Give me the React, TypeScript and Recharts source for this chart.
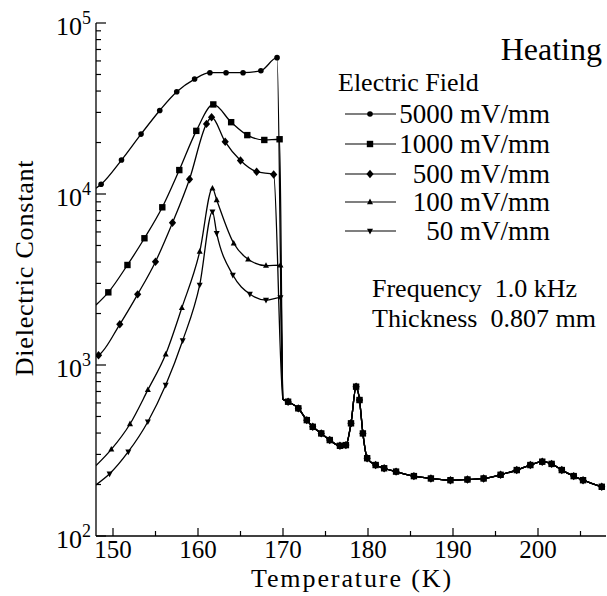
import React from 'react';
import { ComposedChart, Line, XAxis, YAxis } from 'recharts';

// dielectric constant vs temperature, heating run, 5 field strengths
const T_5000 = [148, 148.6, 151.0, 153.3, 155.5, 157.5, 159.6, 161.4, 163.3, 165.3, 167.4, 169.3, 170.0];
const V_5000 = [10800, 11400, 15800, 22400, 30800, 39600, 47000, 51200, 51200, 51200, 52600, 62700, 630];

const T_1000 = [148, 149.45, 151.7, 153.7, 155.8, 157.8, 159.8, 161.8, 163.9, 165.8, 167.8, 169.6, 170.0];
const V_1000 = [2245, 2660, 3845, 5510, 8360, 13800, 23400, 33400, 26300, 22100, 20700, 20900, 630];

const T_500 = [148, 148.3, 150.8, 152.9, 155.0, 157.0, 159.0, 161.0, 161.6, 163.2, 165.0, 166.9, 168.9, 170.0];
const V_500 = [1120, 1140, 1730, 2590, 4020, 6790, 12200, 25700, 28100, 20200, 15700, 13500, 13000, 630];

const T_100 = [148, 149.8, 152.0, 154.1, 156.2, 158.1, 160.2, 161.7, 162.2, 164.2, 165.9, 168.0, 169.7, 170.0];
const V_100 = [258, 321, 452, 715, 1155, 2160, 4600, 10800, 9230, 5150, 4150, 3810, 3830, 630];

const T_50 = [148, 149.6, 151.8, 154.1, 156.2, 158.2, 160.2, 161.7, 162.2, 164.1, 166.1, 168.0, 169.7, 170.0];
const V_50 = [199, 231, 311, 466, 764, 1390, 2940, 7890, 5890, 3360, 2600, 2400, 2480, 630];

// above ~170 K all curves collapse onto one
const TAIL_T = [170.6, 171.8, 172.8, 173.5, 174.5, 175.5, 176.7, 177.4, 178.0, 178.6, 179.0, 179.4, 179.9, 180.9,
  181.9, 183.3, 185.4, 187.4, 189.7, 191.7, 193.6, 195.6, 197.5, 199.1, 200.5, 201.6, 202.8, 204.2, 205.3, 207.5];
const TAIL_V = [610, 558, 476, 435, 398, 364, 337, 340, 456, 747, 624, 398, 285, 260,
  249, 238, 224, 217, 212, 214, 217, 228, 243, 260, 272, 264, 243, 224, 212, 194];

const FIELDS = ['5000 mV/mm', '1000 mV/mm', '500 mV/mm', '100 mV/mm', '50 mV/mm'];
const SHAPES = ['circle', 'square', 'diamond', 'up', 'down'];

const X_TICKS = [150, 155, 160, 165, 170, 175, 180, 185, 190, 195, 200, 205];
const DECADES = [100, 1000, 10000];
const Y_TICKS = [...DECADES.flatMap((d) => [1, 2, 3, 4, 5, 6, 7, 8, 9].map((m) => m * d)), 100000];

const DROP_T = 170.0;
const FONT = "'Liberation Serif', 'Times New Roman', Times, serif";
const txt = { fontFamily: FONT };

const mk = (ts: number[], vs: number[]) =>
  ts.map((t, i) => ({ t, v: vs[i] })).concat(TAIL_T.map((t, i) => ({ t, v: TAIL_V[i] })));

const SERIES = [mk(T_5000, V_5000), mk(T_1000, V_1000), mk(T_500, V_500), mk(T_100, V_100), mk(T_50, V_50)];

function Marker({ shape, cx, cy }: { shape: string; cx: number; cy: number }) {
  if (shape === 'circle') return <circle cx={cx} cy={cy} r={2.8} fill="#000" />;
  if (shape === 'square') return <rect x={cx - 3.2} y={cy - 3.2} width={6.4} height={6.4} fill="#000" />;
  if (shape === 'diamond')
    return <polygon points={`${cx},${cy - 4.2} ${cx + 3.6},${cy} ${cx},${cy + 4.2} ${cx - 3.6},${cy}`} fill="#000" />;
  if (shape === 'up')
    return <polygon points={`${cx},${cy - 3.4} ${cx + 3},${cy + 2.2} ${cx - 3},${cy + 2.2}`} fill="#000" />;
  return <polygon points={`${cx},${cy + 3.4} ${cx + 3},${cy - 2.2} ${cx - 3},${cy - 2.2}`} fill="#000" />;
}

const isDecade = (v: number) => {
  const e = Math.round(Math.log10(v));
  return Math.abs(Math.pow(10, e) - v) < 1e-6;
};

function BottomTick(props: any) {
  const { x, y, payload } = props;
  const major = payload.value % 10 === 0;
  return (
    <g>
      <line x1={x} y1={y} x2={x} y2={y - (major ? 8 : 5)} stroke="#000" strokeWidth={1.2} />
      {major && (
        <text x={x} y={y + 22} textAnchor="middle" fontSize={25} style={txt} fill="#000">
          {payload.value}
        </text>
      )}
    </g>
  );
}

function TopTick(props: any) {
  const { x, y, payload } = props;
  const major = payload.value % 10 === 0;
  return <line x1={x} y1={y} x2={x} y2={y + (major ? 8 : 5)} stroke="#000" strokeWidth={1.2} />;
}

function LeftTick(props: any) {
  const { x, y, payload } = props;
  const v = payload.value;
  const major = isDecade(v);
  return (
    <g>
      <line x1={x} y1={y} x2={x + (major ? 10 : 5)} y2={y} stroke="#000" strokeWidth={1.2} />
      {major && (
        <text x={x - 5} y={y + 12} textAnchor="end" fontSize={26} style={txt} fill="#000">
          10<tspan dy={-11} fontSize={18}>{Math.round(Math.log10(v))}</tspan>
        </text>
      )}
    </g>
  );
}

function RightTick(props: any) {
  const { x, y, payload } = props;
  const major = isDecade(payload.value);
  return <line x1={x} y1={y} x2={x - (major ? 10 : 5)} y2={y} stroke="#000" strokeWidth={1.2} />;
}

const LEGEND_Y = [114, 144, 174, 202, 231];

export default function App() {
  return (
    <div style={{ position: 'absolute', left: 0, top: 0, width: 607, height: 596, background: '#fff', overflow: 'hidden' }}>
      <ComposedChart width={607} height={596} margin={{ top: 23, right: 1, bottom: 0, left: 0 }}>
        <XAxis
          xAxisId="b"
          type="number"
          dataKey="t"
          domain={[148, 208]}
          allowDataOverflow
          ticks={X_TICKS}
          interval={0}
          height={60}
          tickSize={0}
          tickMargin={0}
          tick={<BottomTick />}
          axisLine={{ stroke: '#000', strokeWidth: 1.3 }}
        />
        <XAxis
          xAxisId="t"
          orientation="top"
          type="number"
          dataKey="t"
          domain={[148, 208]}
          allowDataOverflow
          ticks={X_TICKS}
          interval={0}
          height={0}
          tickSize={0}
          tickMargin={0}
          tick={<TopTick />}
          axisLine={{ stroke: '#000', strokeWidth: 1.3 }}
        />
        <YAxis
          yAxisId="l"
          scale="log"
          domain={[100, 100000]}
          allowDataOverflow
          ticks={Y_TICKS}
          interval={0}
          width={96}
          tickSize={0}
          tickMargin={0}
          tick={<LeftTick />}
          axisLine={{ stroke: '#000', strokeWidth: 1.3 }}
        />
        <YAxis
          yAxisId="r"
          orientation="right"
          scale="log"
          domain={[100, 100000]}
          allowDataOverflow
          ticks={Y_TICKS}
          interval={0}
          width={0}
          tickSize={0}
          tickMargin={0}
          tick={<RightTick />}
          axisLine={false}
        />
        {SERIES.map((data, i) => (
          <Line
            key={FIELDS[i]}
            data={data}
            xAxisId="b"
            yAxisId="l"
            dataKey="v"
            type="monotone"
            stroke="#000"
            strokeWidth={1.3}
            isAnimationActive={false}
            dot={(p: any) => {
              if (p.payload.t === DROP_T || p.payload.t === 148) return <g key={p.key ?? p.index} />;
              return (
                <g key={p.key ?? p.index}>
                  <Marker shape={SHAPES[i]} cx={p.cx} cy={p.cy} />
                </g>
              );
            }}
          />
        ))}
      </ComposedChart>
      <svg width={607} height={596} style={{ position: 'absolute', left: 0, top: 0, pointerEvents: 'none', ...txt }}>
        <g fill="#000">
          <text x={602} y={60} textAnchor="end" fontSize={32} style={txt}>Heating</text>
          <text x={338} y={91} fontSize={26} style={txt}>Electric Field</text>
          {FIELDS.map((f, i) => (
            <g key={f}>
              <line x1={345} y1={LEGEND_Y[i]} x2={396} y2={LEGEND_Y[i]} stroke="#000" strokeWidth={1.2} />
              <Marker shape={SHAPES[i]} cx={370} cy={LEGEND_Y[i]} />
              <text x={550} y={LEGEND_Y[i] + 9} textAnchor="end" fontSize={27} style={txt}>{f}</text>
            </g>
          ))}
          <text x={372} y={297} fontSize={26} style={{ ...txt, whiteSpace: 'pre' }}>{'Frequency  1.0 kHz'}</text>
          <text x={372} y={327} fontSize={26} style={{ ...txt, whiteSpace: 'pre' }}>{'Thickness  0.807 mm'}</text>
          <text x={352} y={587} textAnchor="middle" fontSize={26} letterSpacing={1.9} style={txt}>Temperature (K)</text>
          <text
            x={24}
            y={268}
            textAnchor="middle"
            dominantBaseline="central"
            fontSize={26}
            letterSpacing={0.8}
            transform="rotate(-90 24 268)"
            style={txt}
          >
            Dielectric Constant
          </text>
        </g>
      </svg>
    </div>
  );
}
